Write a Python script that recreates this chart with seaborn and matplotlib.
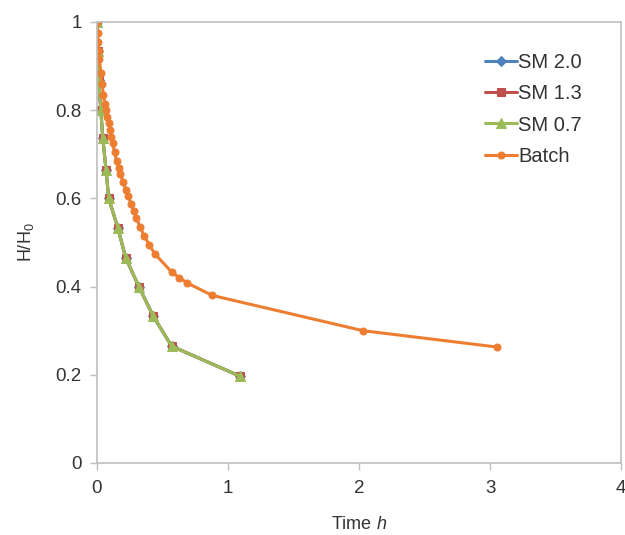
import numpy as np
import pandas as pd
import matplotlib
matplotlib.use("Agg")
import matplotlib.pyplot as plt
import seaborn as sns

sns.set_style("white")
plt.rcParams['font.family'] = ['Liberation Sans', 'DejaVu Sans']
plt.rcParams['mathtext.fontset'] = 'custom'
plt.rcParams['mathtext.rm'] = 'Liberation Sans'
plt.rcParams['mathtext.it'] = 'Liberation Sans:italic'

# SM series (all three overlap)
sm_time = [0, 0.005, 0.015, 0.03, 0.045, 0.07, 0.09, 0.16, 0.22, 0.32, 0.43, 0.57, 1.09]
sm_val = [1.0, 0.934, 0.868, 0.80, 0.737, 0.664, 0.60, 0.533, 0.465, 0.40, 0.333, 0.265, 0.197]

batch_time = [0, 0.005, 0.01, 0.015, 0.02, 0.03, 0.04, 0.05, 0.06, 0.07, 0.08, 0.09,
              0.10, 0.11, 0.12, 0.135, 0.15, 0.165, 0.18, 0.20, 0.22, 0.24, 0.26,
              0.28, 0.30, 0.33, 0.36, 0.40, 0.44, 0.57, 0.63, 0.69, 0.88, 2.03, 3.05]
batch_val = [1.0, 0.975, 0.955, 0.935, 0.915, 0.885, 0.86, 0.835, 0.815, 0.80, 0.785, 0.77,
             0.755, 0.74, 0.725, 0.705, 0.685, 0.67, 0.655, 0.637, 0.62, 0.605, 0.588,
             0.572, 0.556, 0.535, 0.515, 0.495, 0.475, 0.433, 0.42, 0.408, 0.38, 0.30, 0.263]

series = ["SM 2.0", "SM 1.3", "SM 0.7", "Batch"]
colors = ["#4F81BD", "#C0504D", "#9BBB59", "#ED7D31"]
markers = ["D", "s", "^", "o"]
msizes = [5, 5.5, 6.5, 5]

frames = []
for s in series[:3]:
    frames.append(pd.DataFrame({"t": sm_time, "v": sm_val, "series": s}))
frames.append(pd.DataFrame({"t": batch_time, "v": batch_val, "series": "Batch"}))
df = pd.concat(frames, ignore_index=True)

fig = plt.figure(figsize=(6.25, 5.35), dpi=100)
ax = fig.add_axes([0.155, 0.1346, 0.839, 0.8243])

for s, c, m, ms in zip(series, colors, markers, msizes):
    sub = df[df["series"] == s]
    sns.lineplot(data=sub, x="t", y="v", ax=ax, color=c, marker=m, markersize=ms,
                 markeredgecolor=c, linewidth=2.2, sort=False, estimator=None,
                 label=s)

ax.set_xlim(0, 4)
ax.set_ylim(0, 1)
ax.set_xticks([0, 1, 2, 3, 4])
ax.set_yticks([0, 0.2, 0.4, 0.6, 0.8, 1.0])
ax.set_xticklabels(["0", "1", "2", "3", "4"])
ax.set_yticklabels(["0", "0.2", "0.4", "0.6", "0.8", "1"])
for sp in ax.spines.values():
    sp.set_color("#BFBFBF")
    sp.set_linewidth(1.2)
ax.tick_params(axis="both", which="major", length=5, width=1, color="#BFBFBF",
               direction="out", labelsize=13.5, labelcolor="#333333")
ax.tick_params(axis="x", bottom=True, pad=7)
ax.tick_params(axis="y", left=True, pad=6)
ax.set_xlabel(r"Time $\mathit{h}$", fontsize=13, color="#333333", labelpad=14)
ax.set_ylabel(r"H/H$_0$", fontsize=13, color="#333333", labelpad=14)

leg = ax.legend(loc="upper right", bbox_to_anchor=(0.96, 0.97), frameon=False,
                fontsize=14.5, handlelength=1.6, handletextpad=0.05, labelspacing=0.6,
                labelcolor="#333333")

fig.savefig("out.png", dpi=100)
